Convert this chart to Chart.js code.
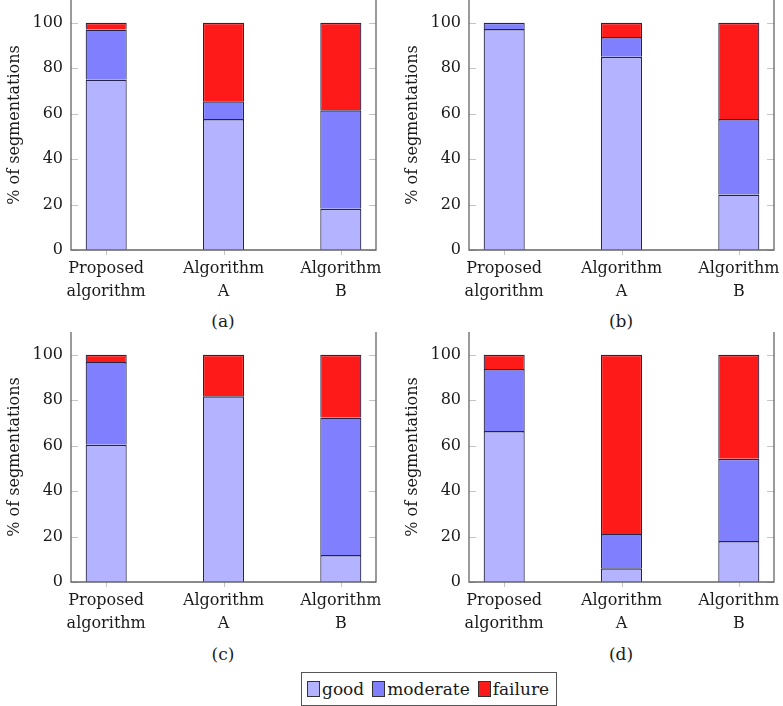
<!DOCTYPE html>
<html>
<head>
<meta charset="utf-8">
<script src="https://cdn.jsdelivr.net/npm/chart.js@4/dist/chart.umd.min.js"></script>
<style>
  html, body { margin: 0; padding: 0; background: #ffffff; }
  body { width: 783px; height: 706px; position: relative; overflow: hidden; font-family: "DejaVu Serif", serif; color: #1a1a1a; }
  .panel { position: absolute; width: 390px; height: 300px; }
  .cap { position: absolute; font-size: 17px; transform: translate(-50%, -50%); white-space: nowrap; }
  #legend { position: absolute; left: 301px; top: 672px; width: 256px; height: 34px; box-sizing: border-box; border: 1px solid #555; display: flex; align-items: center; padding-left: 5px; font-size: 17px; }
  .item { display: flex; align-items: center; margin-right: 8px; }
  .sw { width: 11px; height: 14px; border: 1px solid #333; margin-right: 2px; }
</style>
</head>
<body>
<div class="panel" style="left:0px;top:0px;"><canvas id="pa"></canvas></div>
<div class="panel" style="left:398px;top:0px;"><canvas id="pb"></canvas></div>
<div class="panel" style="left:0px;top:332px;"><canvas id="pc"></canvas></div>
<div class="panel" style="left:398px;top:332px;"><canvas id="pd"></canvas></div>
<div class="cap" style="left:223px;top:321px;">(a)</div>
<div class="cap" style="left:621px;top:321px;">(b)</div>
<div class="cap" style="left:223px;top:654px;">(c)</div>
<div class="cap" style="left:621px;top:654px;">(d)</div>
<div id="legend"></div>
<script>
// ---- data ----
const categories = [["Proposed", "algorithm"], ["Algorithm", "A"], ["Algorithm", "B"]];
const seriesNames = ["good", "moderate", "failure"];
const yTicks = [0, 20, 40, 60, 80, 100];

const goodA = [75, 57.6, 18.2];
const moderateA = [22, 7.8, 43.3];
const failureA = [3, 34.6, 38.5];

const goodB = [97.2, 85, 24.4];
const moderateB = [2.8, 8.7, 33.2];
const failureB = [0, 6.3, 42.4];

const goodC = [60.4, 81.7, 11.9];
const moderateC = [36.4, 0, 60.5];
const failureC = [3.2, 18.3, 27.6];

const goodD = [66.4, 6.0, 18.0];
const moderateD = [27.3, 15.1, 36.2];
const failureD = [6.3, 78.9, 45.8];

// ---- styles ----
const colors = ["#b3b3ff", "#8080ff", "#ff1a1a"];
const FONT = { family: "'DejaVu Serif', serif", size: 16 };

const frame = {
  id: "frame",
  afterDatasetsDraw(chart) {
    const { ctx, chartArea: a, scales: { x, y } } = chart;
    ctx.save();
    ctx.strokeStyle = "#c4c4c4";
    ctx.lineWidth = 1;
    ctx.beginPath();
    yTicks.forEach(v => {
      const py = Math.round(y.getPixelForValue(v)) + 0.5;
      ctx.moveTo(a.left, py); ctx.lineTo(a.left + 7, py);
      ctx.moveTo(a.right - 7, py); ctx.lineTo(a.right, py);
    });
    categories.forEach((_, i) => {
      const px = Math.round(x.getPixelForValue(i)) + 0.5;
      ctx.moveTo(px, a.bottom); ctx.lineTo(px, a.bottom + 5);
    });
    ctx.stroke();
    ctx.strokeStyle = "#666666";
    ctx.lineWidth = 1.3;
    ctx.beginPath();
    ctx.moveTo(a.left, a.top); ctx.lineTo(a.left, a.bottom);
    ctx.lineTo(a.right, a.bottom); ctx.lineTo(a.right, a.top);
    ctx.stroke();
    ctx.restore();
  }
};

function makePanel(id, good, moderate, failure) {
  const sets = [good, moderate, failure];
  new Chart(document.getElementById(id), {
    type: "bar",
    data: {
      datasets: sets.map((vals, k) => ({
        label: seriesNames[k],
        data: vals.map((v, i) => ({ x: i, y: v })),
        backgroundColor: colors[k],
        borderColor: "#24244a",
        borderWidth: { top: 1.5, left: 1.2, right: 1.2, bottom: 0 },
        borderSkipped: false,
        categoryPercentage: 1,
        barPercentage: 0.35
      }))
    },
    options: {
      responsive: false,
      animation: false,
      devicePixelRatio: 1,
      layout: { padding: { top: 0, right: 14, left: 0, bottom: 0 } },
      plugins: { legend: { display: false }, tooltip: { enabled: false } },
      scales: {
        x: {
          type: "linear",
          stacked: true,
          offset: false,
          min: -0.3,
          max: 2.3,
          afterBuildTicks: s => { s.ticks = categories.map((_, i) => ({ value: i })); },
          afterFit: s => { s.height = 50; s.paddingLeft = 0; s.paddingRight = 0; },
          grid: { display: false, drawTicks: false },
          border: { display: false },
          ticks: {
            callback: v => categories[v],
            font: { family: FONT.family, size: 16, lineHeight: 1.45 },
            color: "#1a1a1a",
            padding: 7,
            maxRotation: 0,
            autoSkip: false
          }
        },
        y: {
          stacked: true,
          min: 0,
          max: 110,
          afterBuildTicks: s => { s.ticks = yTicks.map(v => ({ value: v })); },
          afterFit: s => { s.width = 71; s.paddingTop = 0; s.paddingBottom = 0; },
          grid: { display: false, drawTicks: false },
          border: { display: false },
          ticks: { font: FONT, color: "#1a1a1a", padding: 8 },
          title: {
            display: true,
            text: "% of segmentations",
            font: FONT,
            color: "#1a1a1a",
            padding: { top: 5, bottom: 0 }
          }
        }
      }
    },
    plugins: [frame]
  });
}

["pa", "pb", "pc", "pd"].forEach(id => {
  const c = document.getElementById(id);
  c.width = 390; c.height = 300;
  c.style.width = "390px"; c.style.height = "300px";
});

makePanel("pa", goodA, moderateA, failureA);
makePanel("pb", goodB, moderateB, failureB);
makePanel("pc", goodC, moderateC, failureC);
makePanel("pd", goodD, moderateD, failureD);

// legend
const leg = document.getElementById("legend");
seriesNames.forEach((n, k) => {
  const it = document.createElement("div");
  it.className = "item";
  const sw = document.createElement("div");
  sw.className = "sw";
  sw.style.background = colors[k];
  const t = document.createElement("span");
  t.textContent = n;
  it.appendChild(sw); it.appendChild(t);
  leg.appendChild(it);
});
</script>
</body>
</html>
